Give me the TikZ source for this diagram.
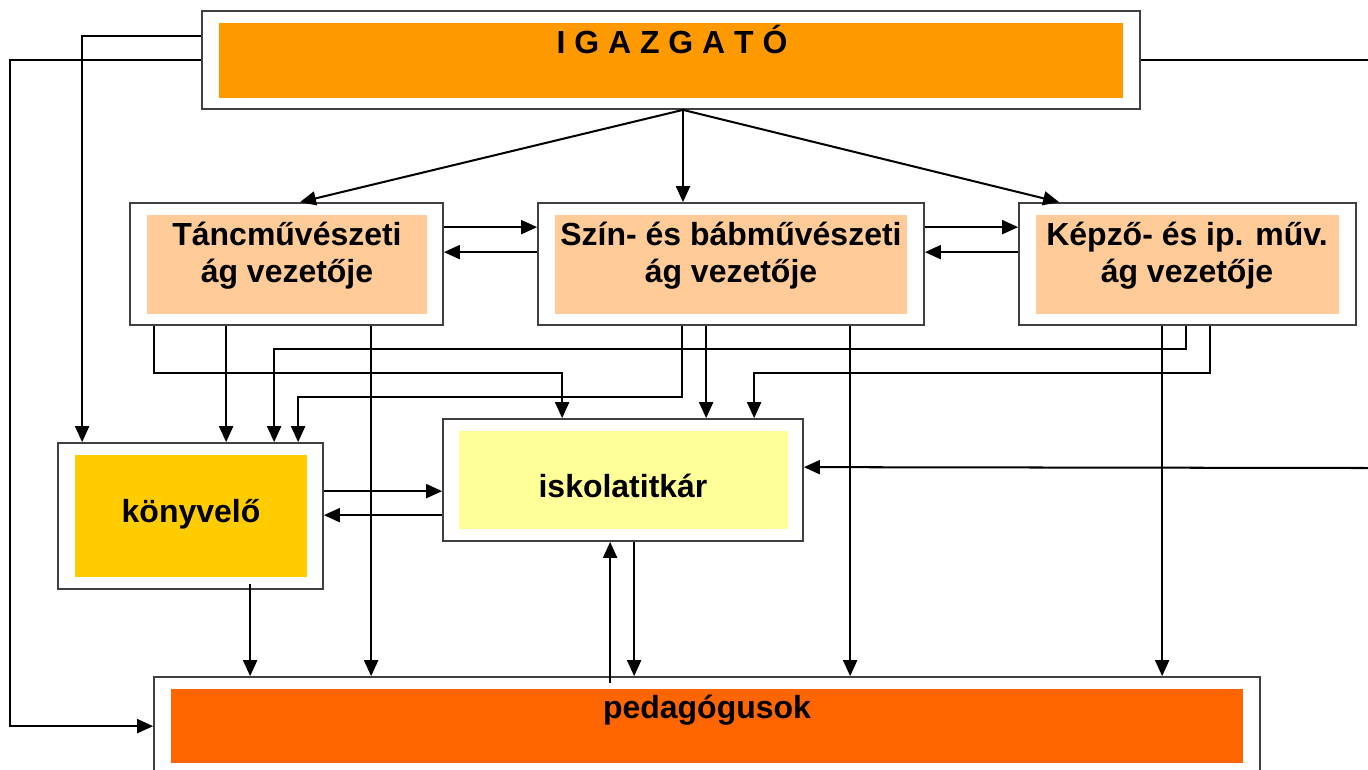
\documentclass[tikz,border=0pt]{standalone}
\usepackage{fontspec}
\setmainfont{Liberation Sans}
\usepackage{tikz}
\usetikzlibrary{arrows.meta}
\usetikzlibrary{calc}
\usetikzlibrary{fit}

\definecolor{igazgato}{RGB}{255,153,0}
\definecolor{agvezeto}{RGB}{255,204,153}
\definecolor{konyvelo}{RGB}{255,204,0}
\definecolor{titkar}{RGB}{255,255,153}
\definecolor{pedagogus}{RGB}{255,102,0}

\begin{document}
\begin{tikzpicture}[x=0.02cm,y=-0.02cm,>={Triangle[length=0.32cm,width=0.28cm]},line width=1.15pt,
        frame node/.style={draw=black!75,line width=1pt,fill=white,inner sep=0pt},
        text node/.style={font=\bfseries\fontsize{18.2}{21.06}\selectfont,align=center,inner sep=0pt,anchor=base}]

    \useasboundingbox (0,0) rectangle (1368,769);
    \clip (0,0) rectangle (1368,769);

    \node[frame node,fit={(202,11) (1140,109)}] (igazg) {};
    \node[frame node,fit={(130,203) (443,325)}] (tanc) {};
    \node[frame node,fit={(538,203) (924,325)}] (szin) {};
    \node[frame node,fit={(1019,203) (1356,325)}] (kepzo) {};
    \node[frame node,fit={(58,443) (323,589)}] (konyv) {};
    \node[frame node,fit={(443,419) (803,541)}] (titkar) {};
    \node[frame node,fit={(154,677) (1260,775)}] (pedag) {};

    \fill[igazgato] (219,23) rectangle (1123,98);
    \fill[agvezeto] (147,215) rectangle (427,314);
    \fill[agvezeto] (555,215) rectangle (907,314);
    \fill[agvezeto] (1036,215) rectangle (1339,314);
    \fill[konyvelo] (75,455) rectangle (307,577);
    \fill[titkar] (459,431) rectangle (788,529);
    \fill[pedagogus] (171,689) rectangle (1243,763);

    \node[text node] (igazg-t) at (672,53) {I G A Z G A T Ó};
    \node[text node] (tanc-t) at (287,282) {Táncművészeti\\ág vezetője};
    \node[text node] (szin-t) at (731,282) {Szín- és bábművészeti\\ág vezetője};
    \node[text node] (kepzo-t) at (1187,282) {Képző- és ip. műv.\\ág vezetője};
    \node[text node] (konyv-t) at (191,522) {könyvelő};
    \node[text node] (titkar-t) at (623,497) {iskolatitkár};
    \node[text node] (pedag-t) at (707,718) {pedagógusok};

    \coordinate (jobb1) at (1368,60);
    \coordinate (jobb2) at (1368,468);

    \begin{scope}[->]
        \draw ($(igazg.south)+(12,0)$) -- ($(tanc.north)+(13.5,0)$);
        \draw ($(igazg.south)+(12,0)$) -- ($(szin.north)+(-48,0)$);
        \draw ($(igazg.south)+(12,0)$) -- ($(kepzo.north west)+(41,0)$);
        \draw ($(tanc.north east)+(0,25)$) -- ($(szin.north west)+(0,25)$);
        \draw ($(szin.north west)+(0,50)$) -- ($(tanc.north east)+(0,50)$);
        \draw ($(szin.north east)+(0,25)$) -- ($(kepzo.north west)+(0,25)$);
        \draw ($(kepzo.north west)+(0,50)$) -- ($(szin.north east)+(0,50)$);
        \draw ($(igazg.west)+(0,-24)$) -| ($(konyv.north west)+(25,0)$);
        \draw (igazg.west) -- ++(-191,0) |- ($(pedag.north west)+(0,50)$);
        \draw[-] (igazg.east) -- (jobb1);
        \draw (jobb2) -- ($(titkar.north east)+(0,49)$);
        \draw ($(tanc.south west)+(25,0)$) -- ++(0,47) -| ($(titkar.north west)+(120,0)$);
        \draw ($(tanc.south west)+(97,0)$) -- ($(konyv.north west)+(169,0)$);
        \draw ($(tanc.south west)+(242,0)$) -- ($(pedag.north west)+(218,0)$);
        \draw ($(szin.south west)+(145,0)$) -- ++(0,71) -| ($(konyv.north west)+(241,0)$);
        \draw ($(szin.south west)+(169,0)$) -- ($(titkar.north west)+(264,0)$);
        \draw ($(szin.south west)+(313,0)$) -- ($(pedag.north west)+(697,0)$);
        \draw ($(kepzo.south west)+(144,0)$) -- ($(pedag.north west)+(1009,0)$);
        \draw ($(kepzo.south west)+(168,0)$) -- ++(0,23) -| ($(konyv.north west)+(217,0)$);
        \draw ($(kepzo.south west)+(192,0)$) -- ++(0,47) -| ($(titkar.north west)+(312,0)$);
        \draw ($(konyv.north east)+(0,49)$) -- ($(titkar.north west)+(0,73)$);
        \draw ($(titkar.north west)+(0,97)$) -- ($(konyv.north east)+(0,73)$);
        \draw ($(konyv.south west)+(193,-6)$) -- ($(pedag.north west)+(97,0)$);
        \draw ($(pedag.north west)+(457,7)$) -- ($(titkar.south west)+(168,0)$);
        \draw ($(titkar.south west)+(192,0)$) -- ($(pedag.north west)+(481,0)$);
    \end{scope}
\end{tikzpicture}
\end{document}
